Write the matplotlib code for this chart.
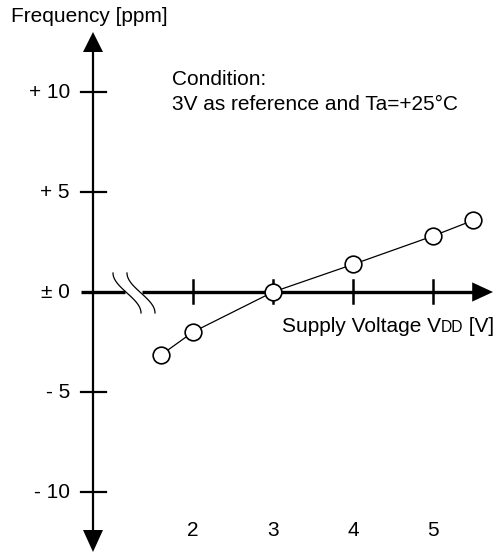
import numpy as np
import matplotlib.pyplot as plt

plt.rcParams['font.family'] = ['Liberation Sans', 'DejaVu Sans']

# measured points: supply voltage [V] vs frequency deviation [ppm]
voltage = [1.6, 2.0, 3.0, 4.0, 5.0, 5.5]
freq_ppm = [-3.15, -2.0, 0.0, 1.38, 2.8, 3.58]

y_ticks = [10, 5, 0, -5, -10]
y_labels = ['+ 10', '+ 5', '\u00b1 0', '- 5', '- 10']
x_ticks = [2, 3, 4, 5]
x_labels = ['2', '3', '4', '5']

W, H = 502, 555
fig = plt.figure(figsize=(W / 100, H / 100), dpi=100)
ax = fig.add_axes([0, 0, 1, 1])
# 80 px per volt, 20 px per ppm; V=2 at x=193 px, 0 ppm at y=292 px
ax.set_xlim(2 - 193 / 80, 2 + (W - 193) / 80)
ax.set_ylim(-(H - 292) / 20, 292 / 20)
ax.axis('off')

FS = 15
yax_x = 0.75

# vertical axis with arrows at both ends
ax.plot([yax_x, yax_x], [-12.0, 12.0], color='black', lw=1.6, solid_capstyle='butt')
ax.fill([yax_x - 0.125, yax_x + 0.125, yax_x], [12.0, 12.0, 13.0], color='black', lw=0)
ax.fill([yax_x - 0.125, yax_x + 0.125, yax_x], [-11.9, -11.9, -13.0], color='black', lw=0)

# horizontal axis, broken near the origin
ax.plot([0.6, 1.15], [0, 0], color='black', lw=2.4, solid_capstyle='butt')
ax.plot([1.36, 5.5], [0, 0], color='black', lw=2.4, solid_capstyle='butt')
ax.fill([5.49, 5.49, 5.75], [-0.48, 0.48, 0], color='black', lw=0)

# break marks
t = np.linspace(0, 1, 40)
for x0 in [1.0, 1.175]:
    ax.plot(x0 + 0.35 * (1 - np.cos(np.pi * t)) / 2, 0.95 - 2.0 * t,
            color='black', lw=0.9)

# ticks and labels
for yt, lab in zip(y_ticks, y_labels):
    if yt != 0:
        ax.plot([0.6, 0.91], [yt, yt], color='black', lw=1.6)
    ax.text(0.46, yt, lab, ha='right', va='center', fontsize=FS)
for xt, lab in zip(x_ticks, x_labels):
    ax.plot([xt, xt], [-0.55, 0.6], color='black', lw=1.8)
    ax.text(xt, -11.95, lab, ha='center', va='center', fontsize=FS)

# data
ax.plot(voltage, freq_ppm, color='black', lw=0.9, marker='o', markersize=12,
        markerfacecolor='white', markeredgecolor='black', markeredgewidth=1.2,
        zorder=5)

# texts
ax.text(-0.275, 13.75, 'Frequency [ppm]', ha='left', va='center', fontsize=FS)
ax.text(1.74, 10.62, 'Condition:', ha='left', va='center', fontsize=FS)
ax.text(1.74, 9.35, '3V as reference and Ta=+25\u00b0C', ha='left', va='center', fontsize=FS)

t1 = ax.text(3.11, -2.0, 'Supply Voltage V', ha='left', va='baseline', fontsize=FS)
t2 = ax.annotate('DD', xy=(1, -2.0), xycoords=(t1, 'data'), ha='left',
                 va='baseline', fontsize=FS * 0.75)
ax.annotate(' [V]', xy=(1, -2.0), xycoords=(t2, 'data'), ha='left',
            va='baseline', fontsize=FS)

fig.savefig('out.png', dpi=100)
